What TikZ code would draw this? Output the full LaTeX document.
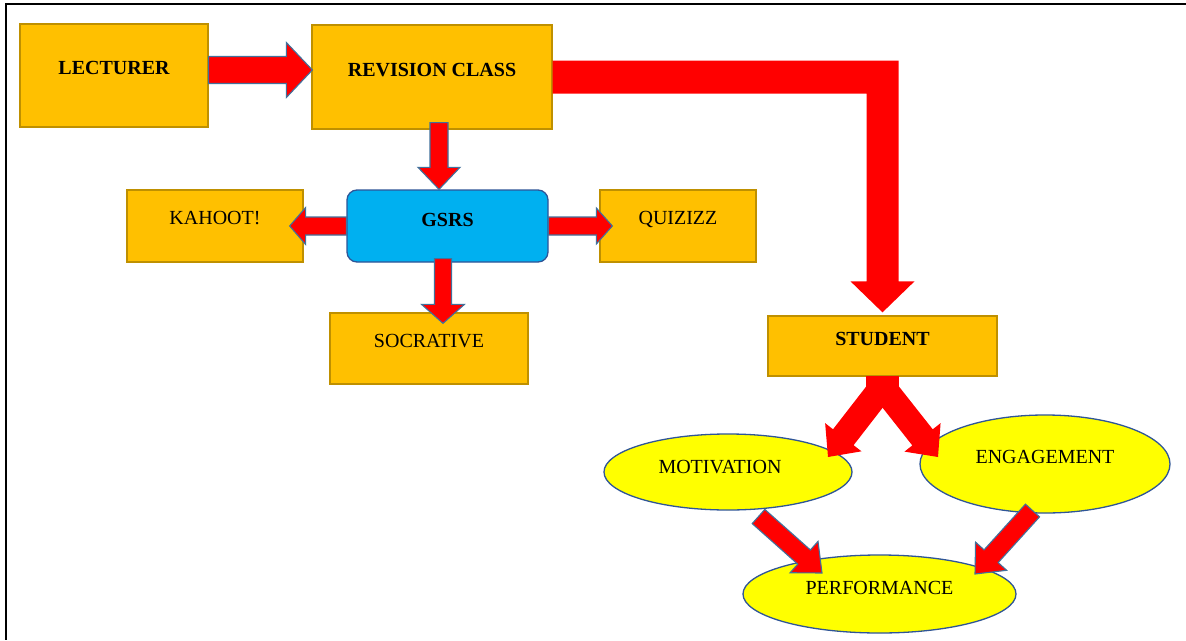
\documentclass[tikz,border=0pt]{standalone}
\usepackage{fontspec}
\setmainfont{Liberation Serif}
\usetikzlibrary{calc,shapes.geometric}
\definecolor{boxf}{HTML}{FFC000}
\definecolor{boxb}{HTML}{BF9000}
\definecolor{cyanf}{HTML}{00B0F0}
\definecolor{blueb}{HTML}{2F5597}
\definecolor{arrb}{HTML}{41719C}
\definecolor{ellf}{HTML}{FFFF00}
\definecolor{redf}{HTML}{FF0000}
% #1 style, #2 from, #3 to, #4 shaft half width, #5 head half width, #6 head length
\newcommand\fatarrow[6][]{%
  \coordinate (fa-h) at ($#3!#6!#2$);
  \path[#1] ($#2!#4!90:#3$) -- ($(fa-h)!#4!90:#3$) -- ($(fa-h)!#5!90:#3$) -- #3
    -- ($(fa-h)!#5!-90:#3$) -- ($(fa-h)!#4!-90:#3$) -- ($#2!#4!-90:#3$) -- cycle;}
\begin{document}
\begin{tikzpicture}[x=1pt,y=-1pt,
  txt/.style={inner sep=0pt, text height=13pt, font=\fontsize{20}{24}\selectfont},
  box/.style={txt, rectangle, draw=boxb, fill=boxf, line width=1.3pt},
  gbox/.style={txt, rectangle, rounded corners=10pt, draw=blueb, fill=cyanf, line width=1.3pt},
  ell/.style={txt, ellipse, draw=blueb, fill=ellf, line width=1.3pt},
  farr/.style={fill=redf, draw=arrb, line width=1.1pt, line join=miter},
  barr/.style={fill=redf, draw=none}]
\useasboundingbox (0,0) rectangle (1186,640);
\fill[white] (0,0) rectangle (1186,640);
\draw[line width=2.2pt] (1186,4) -- (6,4) -- (6,640);

% nodes
\node[box, minimum width=188, minimum height=103, text depth=15pt, font=\fontsize{20}{24}\selectfont\bfseries] (lect) at (114,75.5) {LECTURER};
\node[box, minimum width=240, minimum height=104, text depth=14pt, font=\fontsize{20}{24}\selectfont\bfseries] (rev) at (432,77) {REVISION CLASS};
\node[gbox, minimum width=201, minimum height=72, text depth=12pt, font=\fontsize{20}{24}\selectfont\bfseries] (gsrs) at (447.5,226) {GSRS};
\node[box, minimum width=176, minimum height=72, text depth=16pt] (kahoot) at (215,226) {KAHOOT!};
\node[box, minimum width=156, minimum height=72, text depth=16pt] (quiz) at (678,226) {QUIZIZZ};
\node[box, minimum width=198, minimum height=71, text depth=15pt] (socr) at (429,348.5) {SOCRATIVE};
\node[box, minimum width=229, minimum height=60, text depth=14pt, font=\fontsize{20}{24}\selectfont\bfseries] (stud) at (882.5,346) {STUDENT};
\node[ell, minimum width=248, minimum height=76, text depth=10pt] (mot) at (728,472) {MOTIVATION\hspace*{16pt}};
\node[ell, minimum width=250, minimum height=98, text depth=14pt] (eng) at (1045,464) {ENGAGEMENT};
\node[ell, minimum width=273, minimum height=78, text depth=12pt] (perf) at (879.5,594) {PERFORMANCE};

% arrow end points
\coordinate (a1) at ($(lect.east)+(0,-5.5)$);
\coordinate (b1) at ($(rev.west)+(1,-7)$);
\coordinate (a2) at ($(rev.south)+(7,-7)$);
\coordinate (b2) at ($(gsrs.north)+(-8.5,0)$);
\coordinate (b3) at ($(kahoot.east)+(-14,0)$);
\coordinate (b4) at ($(quiz.west)+(13,0)$);
\coordinate (a5) at ($(gsrs.south)+(-4.5,-4)$);
\coordinate (b5) at ($(socr.north)+(14,11)$);
\coordinate (a8) at ($(mot.center)+(30.5,44.5)$);
\coordinate (b8) at ($(perf.center)+(-57.5,-21)$);
\coordinate (a9) at ($(eng.center)+(-12.5,46.5)$);
\coordinate (b9) at ($(perf.center)+(95.5,-20)$);
\coordinate (s0) at ($(stud.south)+(0,10)$);
\coordinate (sl) at ($(mot.center)+(100,-15)$);
\coordinate (sr) at ($(eng.center)+(-107,-7)$);
\coordinate (bc) at (stud.north |- rev.east);
\coordinate (bt) at ($(stud.north)+(0,-3)$);

% outlined arrows
\fatarrow[farr]{(a1)}{(b1)}{13.5pt}{27.5pt}{26pt}
\fatarrow[farr]{(a2)}{(b2)}{9pt}{21pt}{22pt}
\fatarrow[farr]{(gsrs.west)}{(b3)}{9pt}{18.5pt}{16pt}
\fatarrow[farr]{(gsrs.east)}{(b4)}{9pt}{18pt}{16pt}
\fatarrow[farr]{(a5)}{(b5)}{8.5pt}{21.5pt}{19pt}
\fatarrow[farr]{(a8)}{(b8)}{9.5pt}{21pt}{24pt}
\fatarrow[farr]{(a9)}{(b9)}{9.5pt}{21pt}{24pt}

% bent arrow revision class -> student
\path[barr] ($(rev.east)+(0,-16.5)$) -- ($(bc)+(16,-16.5)$) -- ($(bt)+(16,-31)$)
  -- ($(bt)+(32,-31)$) -- (bt) -- ($(bt)+(-32,-31)$) -- ($(bt)+(-16,-31)$)
  -- ($(bc)+(-16,16.5)$) -- ($(rev.east)+(0,16.5)$) -- cycle;

% split arrow student -> motivation / engagement
\path[barr] ($(stud.south)+(-16.5,-1)$) rectangle ($(stud.south)+(16.5,22)$);
\fatarrow[barr]{(s0)}{(sl)}{13pt}{23pt}{25pt}
\fatarrow[barr]{(s0)}{(sr)}{13pt}{23pt}{25pt}
\end{tikzpicture}
\end{document}
